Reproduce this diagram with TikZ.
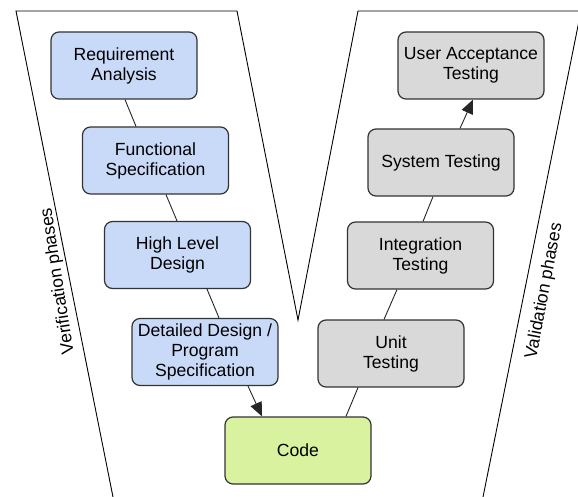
\documentclass[tikz,border=0pt]{standalone}
\usepackage{fontspec}
\setmainfont{Liberation Sans}
\usetikzlibrary{arrows.meta}
\definecolor{specblue}{HTML}{C9DAF8}
\definecolor{testgray}{HTML}{D9D9D9}
\definecolor{codegreen}{HTML}{D9F2A0}
\definecolor{edgegray}{HTML}{333333}
\tikzset{
  phase/.style={draw=edgegray, line width=1.2pt, rounded corners=8pt,
    minimum width=146pt, minimum height=67pt, align=center,
    inner sep=2pt, font=\fontsize{17.6}{20}\selectfont},
  verif/.style={phase, fill=specblue},
  valid/.style={phase, fill=testgray},
  impl/.style={phase, fill=codegreen},
  link/.style={draw=black!85, line width=0.9pt},
  flow/.style={link, -{Triangle[length=14pt,width=12pt]}},
  sidelabel/.style={font=\fontsize{17.6}{20}\selectfont, inner sep=0pt},
}
\begin{document}
\begin{tikzpicture}[x=1pt,y=-1pt]
\useasboundingbox (0,0) rectangle (578,497);
% V-shaped outline of the two phase bands
\draw[line width=0.9pt, line join=miter]
  (113,497) -- (16,11) -- (237,11) -- (298,320) -- (358,11) -- (581,11) -- (483,497);

% verification side
\node[verif] (ra)  at (124,65.5)  {Requirement\\Analysis};
\node[verif] (fs)  at (155.5,160.5) {Functional\\Specification};
\node[verif] (hld) at (177.5,255) {High Level\\Design};
\node[verif] (dd)  at (205,352)   {Detailed Design /\\Program\\Specification};

% implementation
\node[impl] (code) at (298,450.5) {Code};

% validation side
\node[valid] (ut)  at (391,353.5) {Unit\\Testing};
\node[valid] (it)  at (420.5,255.5) {Integration\\Testing};
\node[valid] (st)  at (441,162.5) {System Testing};
\node[valid] (uat) at (471,65.5)  {User Acceptance\\Testing};

% connectors
\draw[link] ([xshift=1pt]ra.south)   -- ([xshift=-19.5pt]fs.north);
\draw[link] ([xshift=10.5pt]fs.south) -- ([xshift=-0.5pt]hld.north);
\draw[link] ([xshift=29.5pt]hld.south) -- ([xshift=14pt]dd.north);
\draw[flow] ([xshift=43pt]dd.south)  -- ([xshift=-36pt]code.north);
\draw[link] ([xshift=48pt]code.north) -- ([xshift=-33pt]ut.south);
\draw[link] ([xshift=-7pt]ut.north)  -- ([xshift=-23.5pt]it.south);
\draw[link] ([xshift=2.5pt]it.north) -- ([xshift=-8pt]st.south);
\draw[flow] ([xshift=19pt]st.north)  -- ([xshift=2pt]uat.south);

% band labels
\node[sidelabel, rotate=98.8] (vl) at (58,281)  {Verification phases};
\node[sidelabel, rotate=79.3] (al) at (544.5,291) {Validation phases};
\end{tikzpicture}
\end{document}
